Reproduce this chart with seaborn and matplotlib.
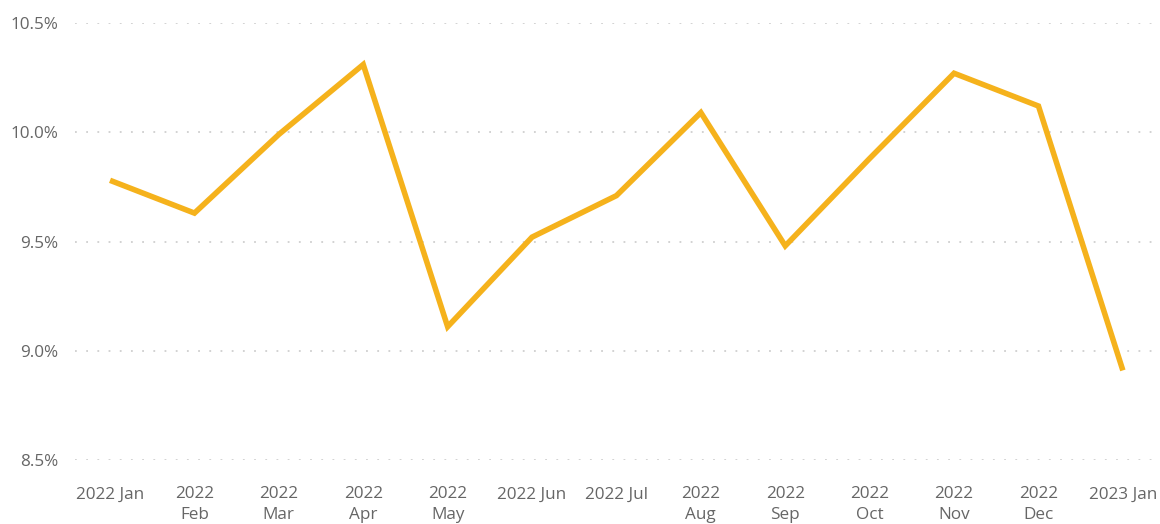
import matplotlib
matplotlib.use("Agg")
import matplotlib.pyplot as plt
from matplotlib.ticker import FuncFormatter, FixedLocator
import seaborn as sns
import pandas as pd

# Monthly rate, Jan 2022 - Jan 2023
months = ["2022 Jan", "2022\nFeb", "2022\nMar", "2022\nApr", "2022\nMay",
          "2022 Jun", "2022 Jul", "2022\nAug", "2022\nSep", "2022\nOct",
          "2022\nNov", "2022\nDec", "2023 Jan"]
rate_pct = [9.78, 9.63, 9.99, 10.31, 9.11, 9.52, 9.71, 10.09, 9.48, 9.88,
            10.27, 10.12, 8.91]
y_ticks = [8.5, 9.0, 9.5, 10.0, 10.5]

df = pd.DataFrame({"pos": range(len(months)), "month": months, "rate": rate_pct})

sns.set_theme(style="white")
plt.rcParams["font.family"] = ["Open Sans", "DejaVu Sans"]

fig = plt.figure(figsize=(11.6, 5.24), dpi=100)
ax = fig.add_axes([75 / 1160, 1 - 460 / 524, 1 - 75 / 1160, (460 - 23) / 524])

sns.lineplot(data=df, x="pos", y="rate", ax=ax, color="#F5B21C",
             linewidth=4.0, solid_joinstyle="miter", solid_capstyle="butt",
             sort=False, clip_on=False)

ax.set_ylim(8.5, 10.5)
ax.set_xlim(-0.415, 12.44)
ax.yaxis.set_major_locator(FixedLocator(y_ticks))
ax.yaxis.set_major_formatter(FuncFormatter(lambda v, _: f"{v:.1f}%"))
ax.set_xticks(df["pos"])
ax.set_xticklabels(df["month"])

ax.grid(axis="y", color="#CFCFCF", linestyle=(0, (1, 5.2)), linewidth=1.3)
ax.grid(axis="x", visible=False)
for s in ax.spines.values():
    s.set_visible(False)

ax.tick_params(axis="both", length=0, colors="#666666", labelsize=12.3)
ax.tick_params(axis="x", pad=19)
ax.tick_params(axis="y", pad=12)
for lbl in ax.get_xticklabels():
    lbl.set_linespacing(1.4)
    lbl.set_verticalalignment("top")

ax.set_xlabel("")
ax.set_ylabel("")

fig.savefig("out.png", dpi=100, facecolor="white")
